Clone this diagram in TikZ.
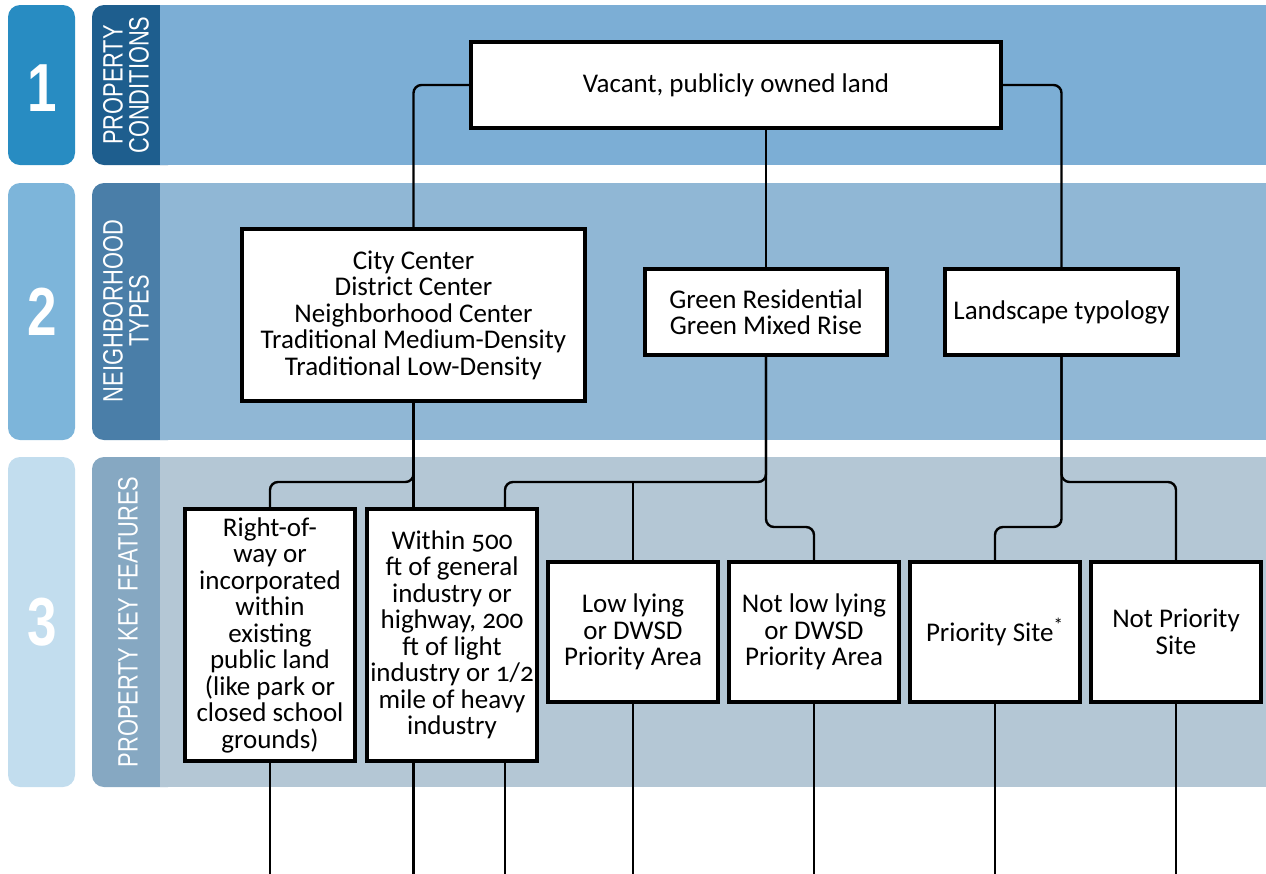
\documentclass[tikz,border=0pt]{standalone}
\usepackage{fontspec}
\setmainfont{Carlito}[Numbers=OldStyle]
\newfontfamily\condfont[FakeStretch=0.78]{Liberation Sans}
\usepackage{tikz}
\usetikzlibrary{positioning,calc}

\definecolor{tabone}{RGB}{40,140,194}
\definecolor{tabtwo}{RGB}{125,181,218}
\definecolor{tabthree}{RGB}{194,221,238}
\definecolor{colone}{RGB}{30,94,142}
\definecolor{coltwo}{RGB}{74,126,168}
\definecolor{colthree}{RGB}{134,168,194}
\definecolor{bodyone}{RGB}{124,174,213}
\definecolor{bodytwo}{RGB}{144,183,213}
\definecolor{bodythree}{RGB}{180,199,213}

\tikzset{
  box/.style={draw=black, line width=1.75pt, fill=white, align=center, inner sep=1pt,
    font=\fontsize{13.5}{13.25}\selectfont},
  link/.style={line width=1.2pt, rounded corners=4pt},
  tabnum/.style={text=white, font=\condfont\bfseries\fontsize{34}{34}\selectfont},
  bandlabel/.style={text=white, rotate=90, align=center, font=\condfont\fontsize{14}{13}\selectfont},
}

\begin{document}
\begin{tikzpicture}[x=0.5pt, y=-0.5pt]
  \useasboundingbox (0,0) rectangle (1266,874);

  % bands
  \fill[tabone, rounded corners=6pt] (8,5) rectangle (75,165);
  \fill[colone, rounded corners=6pt] (92,5) rectangle (180,165);
  \fill[bodyone] (160,5) rectangle (1266,165);
  \fill[tabtwo, rounded corners=6pt] (8,183) rectangle (75,440);
  \fill[coltwo, rounded corners=6pt] (92,183) rectangle (180,440);
  \fill[bodytwo] (160,183) rectangle (1266,440);
  \fill[tabthree, rounded corners=6pt] (8,457) rectangle (75,787);
  \fill[colthree, rounded corners=6pt] (92,457) rectangle (180,787);
  \fill[bodythree] (160,457) rectangle (1266,787);

  \node[tabnum] (numone) at (42,88) {1};
  \node[tabnum] (numtwo) at (42,312) {2};
  \node[tabnum] (numthree) at (42,622) {3};
  \node[bandlabel] (lblone) at (126,85) {PROPERTY\\CONDITIONS};
  \node[bandlabel] (lbltwo) at (126,311) {NEIGHBORHOOD\\TYPES};
  \node[bandlabel] (lblthree) at (128,622) {PROPERTY KEY FEATURES};

  % boxes
  \node[box, minimum width=265pt, minimum height=43pt] (top) at (736,85) {Vacant, publicly owned land};
  \node[box, minimum width=171.5pt, minimum height=86pt] (boxA) at (413.5,315)
    {City Center\\District Center\\Neighborhood Center\\Traditional Medium-Density\\Traditional Low-Density};
  \node[box, minimum width=121pt, minimum height=43pt] (boxB) at (766,312) {Green Residential\\Green Mixed Rise};
  \node[box, minimum width=116.5pt, minimum height=43pt] (boxC) at (1061.5,312) {Landscape typology};

  \node[box, minimum width=85pt, minimum height=126pt] (b1) at (270,635)
    {Right-of-\\way or\\incorporated\\within\\existing\\public land\\(like park or\\closed school\\grounds)};
  \node[box, minimum width=85pt, minimum height=126pt] (b2) at (452,635)
    {Within 500\\ft of general\\industry or\\highway, 200\\ft of light\\industry or 1/2\\mile of heavy\\industry};
  \node[box, minimum width=85pt, minimum height=70pt] (b3) at (633,632) {Low lying\\or DWSD\\Priority Area};
  \node[box, minimum width=85pt, minimum height=70pt] (b4) at (814,632) {Not low lying\\or DWSD\\Priority Area};
  \node[box, minimum width=85pt, minimum height=70pt] (b5) at (995,632) {Priority Site\textsuperscript{*}};
  \node[box, minimum width=85pt, minimum height=70pt] (b6) at (1176,632) {Not Priority\\Site};

  \coordinate (rowA) at (0,482);
  \coordinate (rowB) at (0,527);
  \coordinate (bot) at (0,874);
  \coordinate (b2r) at ([xshift=26.5pt]b2.north);

  % connectors
  \draw[link] (top.west) -| (boxA.north);
  \draw[link] (top.south -| boxB.north) -- (boxB.north);
  \draw[link] (top.east) -| (boxC.north);
  \draw[link] (boxA.south) -- (boxA.south |- b2.north);
  \draw[link] (boxA.south) |- (rowA -| b1.north) -- (b1.north);
  \draw[link] (boxB.south) |- (rowA -| b2r) -- (b2r);
  \draw[link] (b3.north |- rowA) -- (b3.north);
  \draw[link] (boxB.south) |- (rowB -| b4.north) -- (b4.north);
  \draw[link] (boxC.south) |- (rowA -| b6.north) -- (b6.north);
  \draw[link] (boxC.south) |- (rowB -| b5.north) -- (b5.north);

  \draw[link] (b1.south) -- (b1.south |- bot);
  \draw[link] (b2.south -| boxA.south) -- (bot -| boxA.south);
  \draw[link] (b2.south -| b2r) -- (bot -| b2r);
  \draw[link] (b3.south) -- (b3.south |- bot);
  \draw[link] (b4.south) -- (b4.south |- bot);
  \draw[link] (b5.south) -- (b5.south |- bot);
  \draw[link] (b6.south) -- (b6.south |- bot);
\end{tikzpicture}
\end{document}
